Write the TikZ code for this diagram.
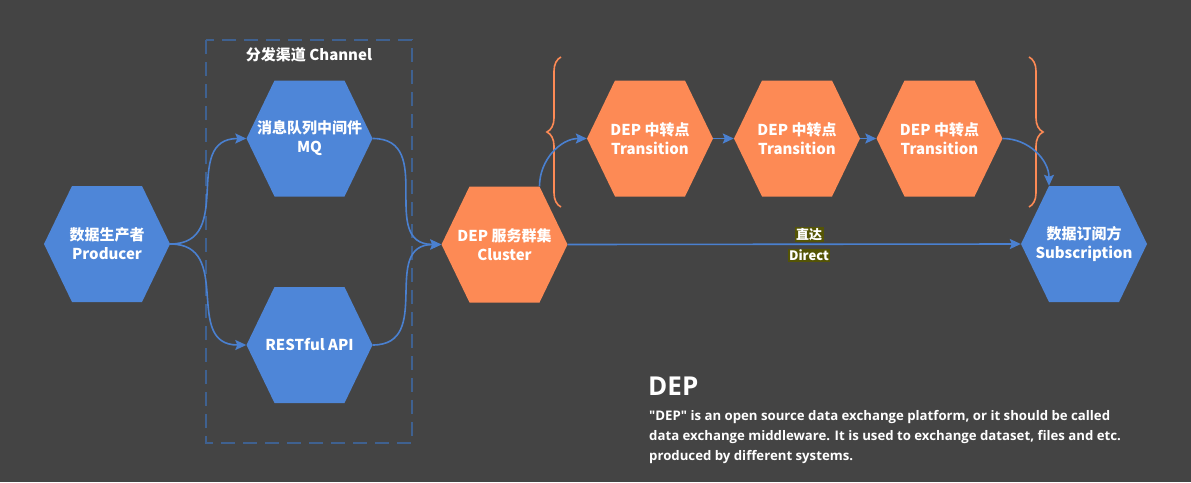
\documentclass[tikz,border=0pt]{standalone}
\usepackage{fontspec}
\setmainfont{Noto Sans CJK SC}
\newfontfamily\latfont{Open Sans}
\usetikzlibrary{arrows.meta,decorations.pathreplacing}
\definecolor{bgc}{HTML}{444444}
\definecolor{hexblue}{HTML}{4E86D8}
\definecolor{hexorange}{HTML}{FD8A55}
\definecolor{lineblue}{HTML}{4A80D0}
\definecolor{dashblue}{HTML}{3F6190}
\definecolor{olive}{HTML}{545405}
\tikzset{
  hexshape/.style={minimum width=126pt, minimum height=116pt, inner sep=0pt,
    text=white, align=center, font=\fontsize{15}{19}\selectfont\bfseries,
    path picture={\fill[#1] (path picture bounding box.west)
      -- ([xshift=-35pt]path picture bounding box.north)
      -- ([xshift=35pt]path picture bounding box.north)
      -- (path picture bounding box.east)
      -- ([xshift=35pt]path picture bounding box.south)
      -- ([xshift=-35pt]path picture bounding box.south) -- cycle;}},
  conn/.style={draw=lineblue, line width=1.6pt, -{Stealth[length=11pt,width=10pt,inset=2pt]}},
  bracestyle/.style={draw=hexorange, line width=1.6pt, decorate, decoration={brace, amplitude=14pt}},
  lbl/.style={fill=olive, text=white, inner sep=1.5pt, font=\fontsize{13}{14}\selectfont\bfseries},
}
\begin{document}
\begin{tikzpicture}[x=1pt,y=-1pt]
\fill[bgc] (0,0) rectangle (1191,482);
\useasboundingbox (0,0) rectangle (1191,482);

% channel frame
\draw[dashblue, line width=1.6pt, dash pattern=on 14pt off 8pt] (206,40) rectangle (412,443);
\node[text=white, font=\fontsize{15}{16}\selectfont\bfseries] (chan) at (309,55) {分发渠道 Channel};

% nodes
\node[hexshape=hexblue] (prod) at (107,244) {数据生产者\\Producer};
\node[hexshape=hexblue] (mq) at (309.5,138.5) {消息队列中间件\\MQ};
\node[hexshape=hexblue] (rest) at (309.5,345) {RESTful API};
\node[hexshape=hexorange] (clu) at (504.5,244.5) {DEP 服务群集\\Cluster};
\node[hexshape=hexorange] (t1) at (650,138.5) {DEP 中转点\\Transition};
\node[hexshape=hexorange] (t2) at (797,138.5) {DEP 中转点\\Transition};
\node[hexshape=hexorange] (t3) at (939.5,138.5) {DEP 中转点\\Transition};
\node[hexshape=hexblue] (sub) at (1084,244) {数据订阅方\\Subscription};

% braces
\draw[bracestyle] (561,207) -- (561,57);
\draw[bracestyle] (1029,57) -- (1029,207);

% connectors
\draw[conn] (prod.east) to[out=0,in=180,looseness=1.3] (mq.west);
\draw[conn] (prod.east) to[out=0,in=180,looseness=1.3] (rest.west);
\draw[conn] (mq.east) to[out=0,in=180,looseness=1.3] (clu.west);
\draw[conn] (rest.east) to[out=0,in=180,looseness=1.3] (clu.west);
\draw[conn] ([xshift=35pt]clu.north) to[out=90,in=180] (t1.west);
\draw[conn] (t1.east) -- (t2.west);
\draw[conn] (t2.east) -- (t3.west);
\draw[conn] (t3.east) to[out=0,in=90] ([xshift=-35pt]sub.north);
\draw[conn] (clu.east) -- (sub.west);

\node[lbl] (l1) at (809,234.5) {直达};
\node[lbl] (l2) at (809,255.5) {Direct};

% description
\node[anchor=west, text=white, font=\latfont\fontsize{26}{28}\selectfont\bfseries, inner sep=0pt] (title) at (648,386) {DEP};
\node[anchor=north west, text=white, align=left, inner sep=0pt,
  font=\latfont\fontsize{13.2}{20}\selectfont\bfseries] (desc) at (649,410)
  {"DEP" is an open source data exchange platform, or it should be called\\
   data exchange middleware. It is used to exchange dataset, files and etc.\\
   produced by different systems.};
\end{tikzpicture}
\end{document}
